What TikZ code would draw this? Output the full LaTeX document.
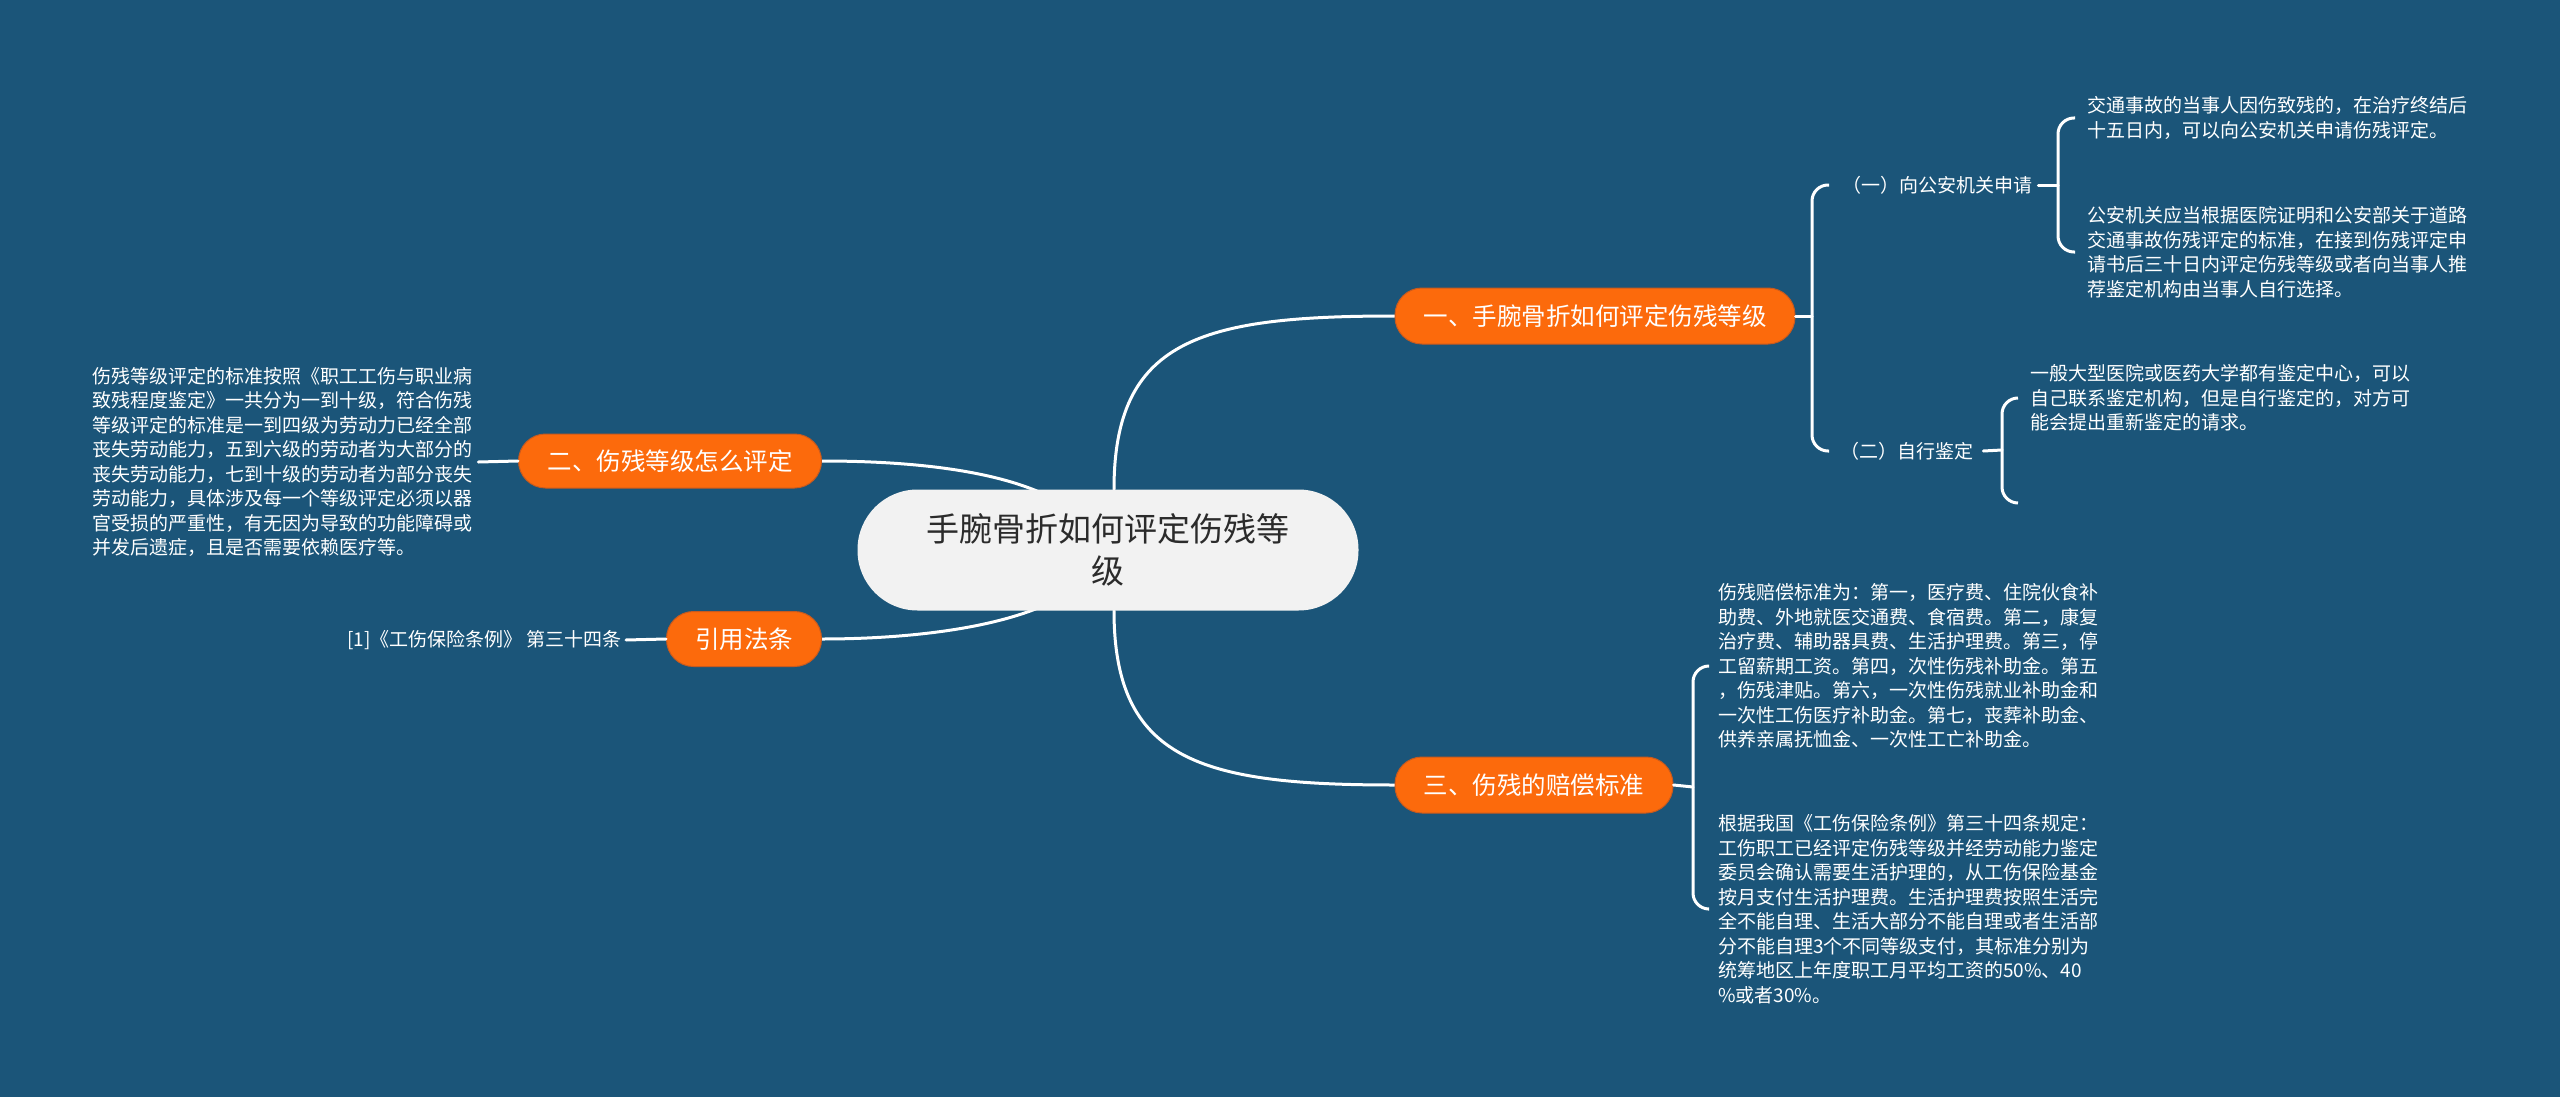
\documentclass[tikz,border=0pt]{standalone}
\usepackage{fontspec}
\setmainfont{Noto Sans CJK SC}
\definecolor{bg}{HTML}{1B5579}
\definecolor{org}{HTML}{FC6A0C}
\definecolor{orgedge}{HTML}{C85A1E}
\definecolor{cfill}{HTML}{F2F2F2}
\definecolor{ctext}{HTML}{2B2B2B}
\pgfdeclarelayer{bgl}
\pgfdeclarelayer{lines}
\pgfsetlayers{bgl,lines,main}
\tikzset{
  smalltext/.style={font=\fontsize{19}{24.5}\selectfont, text=white, align=left, inner sep=0pt, anchor=west},
  orangebox/.style={fill=org, draw=orgedge, line width=1pt, text=white, rounded corners=27pt, inner sep=0pt, font=\fontsize{24.5}{30}\selectfont},
  centerbox/.style={fill=cfill, text=ctext, rounded corners=60pt, inner sep=0pt, minimum width=501pt, minimum height=121pt, align=center, font=\fontsize{33}{42}\selectfont},
  link/.style={draw=white, line width=3pt, line cap=round},
  bracket/.style={draw=white, line width=3pt, rounded corners=16pt}
}
\begin{document}
\begin{tikzpicture}[x=1pt,y=-1pt]
\useasboundingbox (0,0) rectangle (2560,1097);
\begin{pgfonlayer}{bgl}
\fill[bg] (0,0) rectangle (2560,1097);
\end{pgfonlayer}

% center and main branches
\node[centerbox] (c) at (1108,550) {手腕骨折如何评定伤残等\\级};
\node[orangebox, minimum width=400pt, minimum height=56pt] (b1) at (1595,316) {一、手腕骨折如何评定伤残等级};
\node[orangebox, minimum width=303pt, minimum height=54pt] (b2) at (670,461) {二、伤残等级怎么评定};
\node[orangebox, minimum width=278pt, minimum height=56pt] (b3) at (1534,785) {三、伤残的赔偿标准};
\node[orangebox, minimum width=155pt, minimum height=55pt] (b4) at (744,639) {引用法条};

% level two labels
\node[smalltext] (s1) at (1842,185) {（一）向公安机关申请};
\node[smalltext] (s2) at (1840,451) {（二）自行鉴定};

% leaf texts
\node[smalltext] (t1a) at (2087,118) {交通事故的当事人因伤致残的，在治疗终结后\\十五日内，可以向公安机关申请伤残评定。};
\node[smalltext] (t1b) at (2087,252) {公安机关应当根据医院证明和公安部关于道路\\交通事故伤残评定的标准，在接到伤残评定申\\请书后三十日内评定伤残等级或者向当事人推\\荐鉴定机构由当事人自行选择。};
\node[smalltext] (t2) at (2030,398) {一般大型医院或医药大学都有鉴定中心，可以\\自己联系鉴定机构，但是自行鉴定的，对方可\\能会提出重新鉴定的请求。};
\node[smalltext] (t3a) at (1718,666) {伤残赔偿标准为：第一，医疗费、住院伙食补\\助费、外地就医交通费、食宿费。第二，康复\\治疗费、辅助器具费、生活护理费。第三，停\\工留薪期工资。第四，次性伤残补助金。第五\\，伤残津贴。第六，一次性伤残就业补助金和\\一次性工伤医疗补助金。第七，丧葬补助金、\\供养亲属抚恤金、一次性工亡补助金。};
\node[smalltext] (t3b) at (1718,909) {根据我国《工伤保险条例》第三十四条规定：\\工伤职工已经评定伤残等级并经劳动能力鉴定\\委员会确认需要生活护理的，从工伤保险基金\\按月支付生活护理费。生活护理费按照生活完\\全不能自理、生活大部分不能自理或者生活部\\分不能自理3个不同等级支付，其标准分别为\\统筹地区上年度职工月平均工资的50\%、40\\\%或者30\%。};
\node[smalltext] (tl) at (92,462) {伤残等级评定的标准按照《职工工伤与职业病\\致残程度鉴定》一共分为一到十级，符合伤残\\等级评定的标准是一到四级为劳动力已经全部\\丧失劳动能力，五到六级的劳动者为大部分的\\丧失劳动能力，七到十级的劳动者为部分丧失\\劳动能力，具体涉及每一个等级评定必须以器\\官受损的严重性，有无因为导致的功能障碍或\\并发后遗症，且是否需要依赖医疗等。};
\node[smalltext, anchor=east] (tr) at (622,640) {[1]《工伤保险条例》 第三十四条};

% bracket joints
\coordinate (k1) at (1812,316);
\coordinate (k11) at (2058,185);
\coordinate (k12) at (2002,450);
\coordinate (k12b) at (2018,503);
\coordinate (k3) at (1693,787);

\begin{pgfonlayer}{lines}
% center curves
\draw[link] ([xshift=6pt]c.north) .. controls (1114,340) and (1200,316) .. (b1.west);
\draw[link] ([xshift=6pt]c.south) .. controls (1114,760) and (1200,785) .. (b3.west);
\draw[link] (b2.east) .. controls (900,461) and (1000,468) .. ([xshift=-50pt,yshift=-12pt]c.north);
\draw[link] (b4.east) .. controls (900,639) and (1000,630) .. ([xshift=-50pt,yshift=12pt]c.south);
\end{pgfonlayer}

% ticks and brackets
\draw[link] (b1.east) -- (k1);
\draw[bracket] ([xshift=-13pt]s1.west) -| (k1) |- ([xshift=-11pt]s2.west);
\draw[link] ([xshift=6pt]s1.east) -- (k11);
\draw[bracket] ([xshift=-12pt]t1a.west) -| (k11) |- ([xshift=-12pt]t1b.west);
\draw[link] ([xshift=10pt]s2.east) -- (k12);
\draw[bracket] ([xshift=-12pt]t2.west) -| (k12) |- (k12b);
\draw[link] (b3.east) -- (k3);
\draw[bracket] ([xshift=-10pt]t3a.west) -| (k3) |- ([xshift=-10pt]t3b.west);
\draw[link] ([xshift=6pt]tl.east) -- (b2.west);
\draw[link] ([xshift=4pt]tr.east) -- (b4.west);
\end{tikzpicture}
\end{document}
